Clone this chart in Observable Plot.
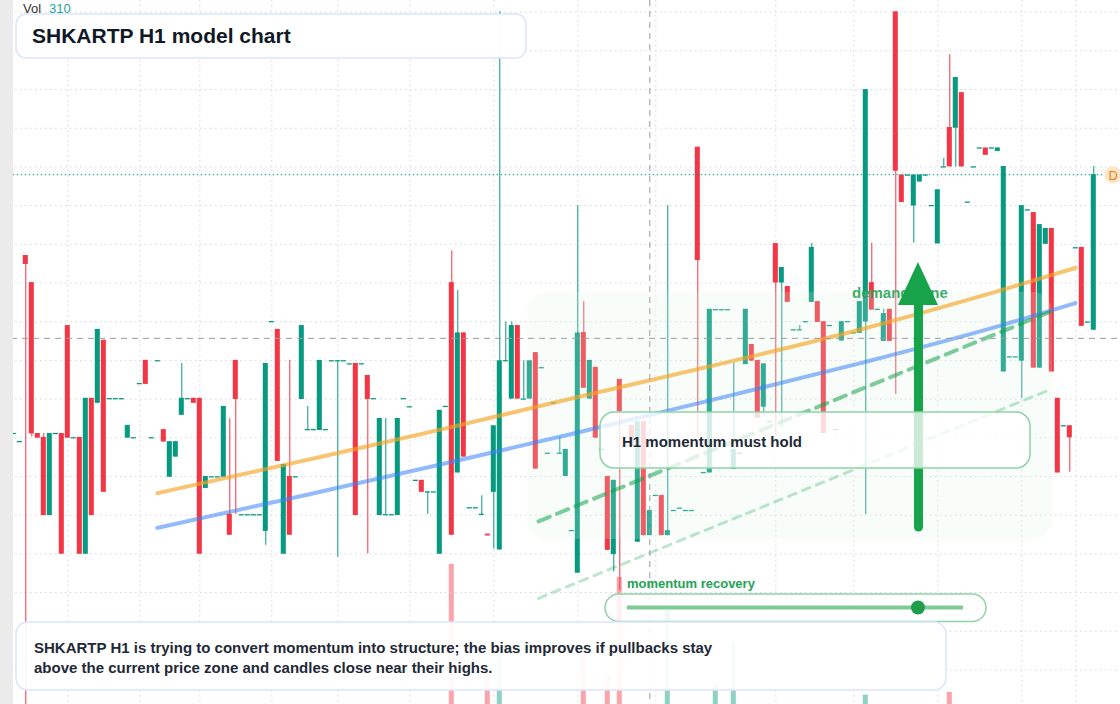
<!DOCTYPE html>
<html><head><meta charset="utf-8">
<script src="https://cdn.jsdelivr.net/npm/d3@7"></script>
<script src="https://cdn.jsdelivr.net/npm/@observablehq/plot@0.6"></script>
<style>
html,body{margin:0;padding:0;background:#fff;}
#chart{position:relative;width:1120px;height:704px;overflow:hidden;background:#fff;font-family:"Liberation Sans",Arial,Helvetica,sans-serif;}
#chart > *{position:absolute;left:0;top:0;}
</style></head><body><div id="chart"></div>
<script>
// ---------- data ----------
const symbol = "SHKARTP";
const timeframe = "H1";
const FIRST_INDEX = -2;            // bar index of the first row below
// [open, high, low, close]
const ohlc = [
[97.11,97.11,97.11,97.11],[96.90,96.90,96.90,96.90],
[101.71,101.71,88.66,101.48],[101.01,101.01,97.02,97.10],[97.11,97.11,96.99,96.99],[97.01,97.11,94.99,94.99],[94.99,97.11,94.99,97.11],
[97.11,97.11,97.11,97.11],[97.11,97.11,93.99,93.99],[99.90,99.90,96.99,96.99],[97.00,97.00,97.00,97.00],[97.01,97.01,93.99,93.99],
[93.99,98.02,93.99,98.02],[98.02,98.02,94.99,94.99],[97.89,99.80,97.89,99.80],[99.52,99.52,95.59,95.59],[98.01,98.01,98.01,98.01],
[98.01,98.01,98.01,98.01],[98.01,98.01,98.01,98.01],[96.99,97.32,96.99,97.32],[97.00,97.00,97.00,97.00],[98.40,98.40,98.40,98.40],
[99.00,99.00,98.38,98.38],[97.00,97.00,97.00,97.00],[98.99,98.99,98.99,98.99],[97.21,97.21,96.89,96.89],[95.98,96.90,95.98,96.90],
[96.50,96.90,96.50,96.90],[97.58,98.92,97.58,98.02],[98.01,98.01,98.01,98.01],[98.02,98.02,97.89,97.89],[98.02,98.02,93.99,93.99],
[95.69,96.00,95.69,96.00],[95.99,95.99,95.99,95.99],[95.99,95.99,95.99,95.99],[95.98,97.81,95.98,97.81],[95.02,97.49,94.48,94.48],
[99.00,99.00,95.02,97.99],[95.01,95.01,95.01,95.01],[95.01,95.01,95.01,95.01],[95.01,95.01,95.01,95.01],[95.01,95.01,95.01,95.01],
[94.58,98.92,94.22,98.92],[100.00,100.00,100.00,100.00],[99.80,99.80,96.39,96.39],[93.99,96.31,93.99,96.31],[96.00,99.00,94.48,94.48],
[95.99,95.99,95.99,95.99],[97.99,99.90,97.99,99.90],[97.21,97.81,97.21,97.21],[97.21,97.21,97.21,97.21],[97.19,99.00,97.19,99.00],
[97.21,97.21,97.21,97.21],[98.99,98.99,98.99,98.99],[98.99,99.00,93.91,98.99],[98.99,98.99,98.99,98.99],[98.91,98.91,98.91,98.91],
[98.92,98.92,94.99,94.99],[98.91,98.91,98.91,98.91],[98.61,98.61,94.00,97.99],[98.01,98.01,98.01,98.01],[94.99,97.50,94.99,97.50],
[95.01,97.50,95.01,95.01],[95.01,95.01,95.01,95.01],[94.99,97.50,94.99,97.50],[98.01,98.01,98.01,98.01],[97.80,97.80,97.80,97.80],
[95.90,95.90,95.90,95.90],[95.90,95.90,95.59,95.59],[95.60,95.60,95.02,95.60],[95.60,95.60,95.60,95.60],[93.99,97.71,93.99,97.71],
[97.81,97.81,97.81,97.81],[101.01,101.83,94.48,94.48],[96.09,100.81,96.09,99.71],[99.71,99.71,96.50,96.50],[95.19,95.19,95.19,95.19],
[95.19,95.19,95.19,95.19],[95.02,95.50,95.02,95.02],[94.51,94.51,94.49,94.49],[95.59,97.31,94.12,97.31],[94.10,108.01,94.10,98.99],
[98.99,99.99,98.99,98.99],[98.00,99.99,98.00,99.90],[99.90,99.90,98.00,98.00],[98.00,98.99,98.00,98.00],[98.00,98.99,98.00,98.99],
[99.20,99.20,96.19,96.19],[98.81,98.81,98.81,98.81],[96.60,96.60,96.60,96.60],[97.90,97.90,97.90,97.90],[96.60,97.02,96.60,96.60],
[96.00,96.70,96.00,96.70],[94.60,94.60,94.60,94.60],[93.50,103.00,93.50,99.71],[99.72,100.52,98.28,98.28],[98.00,99.00,98.00,99.00],
[98.82,98.82,96.99,96.99],[96.70,96.70,96.70,96.70],[96.00,96.00,94.09,94.09],[93.98,95.90,93.53,95.90],[98.51,98.51,93.05,97.68],
[96.80,96.80,96.80,96.80],[97.32,97.32,96.78,96.78],[94.30,97.42,94.30,97.42],[97.42,97.42,94.47,94.47],[94.47,95.12,94.47,95.12],
[95.51,95.51,95.51,95.51],[95.51,95.51,94.47,94.47],[94.47,103.00,94.47,94.60],[95.12,95.12,95.12,95.12],[95.18,95.18,95.18,95.18],
[95.12,95.12,95.12,95.12],[95.12,95.12,95.12,95.12],[104.51,104.51,97.02,101.58],[96.10,96.10,96.10,96.10],[96.09,100.32,96.09,100.32],
[100.31,100.31,100.31,100.31],[100.31,100.31,100.31,100.31],[100.31,100.31,100.31,100.31],[96.18,98.93,96.18,96.70],[96.60,96.60,96.60,96.60],
[98.89,100.32,98.89,100.32],[99.41,99.41,98.98,98.98],[99.00,99.00,97.50,97.50],[97.79,98.91,97.57,98.91],[97.42,97.42,97.42,97.42],
[102.02,102.02,97.02,101.00],[101.00,101.40,97.27,101.40],[100.91,100.91,100.50,100.50],[99.79,99.79,99.79,99.79],[99.79,99.90,99.79,99.79],
[100.00,100.00,100.00,100.00],[100.50,102.02,100.50,101.92],[100.52,100.52,99.98,99.98],[100.00,100.00,97.11,97.11],[99.90,99.90,99.90,99.90],
[97.21,97.21,97.21,97.21],[99.50,100.00,99.50,100.00],[100.00,100.00,100.00,100.00],[99.71,99.71,99.71,99.71],[99.70,100.52,99.70,100.52],
[99.99,106.00,95.02,106.00],[101.01,102.03,100.30,100.30],[100.32,100.32,100.32,100.32],[99.49,100.32,99.49,100.21],[100.32,100.32,99.49,99.49],
[108.01,108.01,98.12,103.89],[103.79,103.79,103.08,103.08],[103.79,103.79,103.79,103.79],[102.99,103.79,102.03,103.79],[103.61,103.79,103.61,103.79],
[103.79,103.79,103.79,103.79],[103.00,103.00,103.00,103.00],[102.01,103.41,102.01,103.41],[104.00,104.22,104.00,104.00],[105.02,106.90,104.00,104.00],
[105.00,106.31,104.00,106.31],[105.92,105.92,104.00,104.00],[103.09,103.09,103.09,103.09],[104.00,104.00,104.00,104.00],[104.49,104.49,104.49,104.49],
[104.49,104.49,104.30,104.30],[104.49,104.49,104.49,104.49],[104.40,104.49,104.40,104.49],[98.70,104.01,98.70,104.01],[99.09,99.09,99.09,99.09],
[99.09,99.09,99.09,99.09],[98.98,103.00,98.01,103.00],[102.89,102.89,102.89,102.89],[102.82,102.82,98.80,98.80],[98.80,102.51,98.80,102.51],
[102.00,102.41,102.00,102.41],[102.41,102.41,98.70,98.70],[98.02,98.02,96.09,96.09],[97.31,97.31,97.31,97.31],[97.31,97.31,96.11,97.00],
[101.91,101.91,101.91,101.91],[101.92,101.92,99.88,99.88],[99.99,99.99,99.99,99.99],[99.78,104.01,99.78,103.80]
];
// [bar index, volume] for the volume bars that show
const volumes = [[71,1090],[77,506],[79,606],[93,583],[97,472],[99,1017],[104,310],[107,828],[115,428],[118,656],[140,363],[154,378]];
const priceTicks = [90,91,92,93,94,95,96,97,98,99,100,101,102,103,104,105,106,107,108];
const timeTicks = [7,19,29,41,52,64,78,92,105,125,138,152,166,175];
const crosshair = {index: 104, price: 99.57};
// channel lines: [bar index, price]
const orangeTrend = [[21.95,95.57],[45.78,96.39],[69.12,97.21],[90.78,98.01],[115.78,98.91],[139.12,99.80],[162.45,100.81],[174.95,101.39]];
const blueTrend   = [[21.90,94.67],[45.78,95.49],[69.12,96.31],[90.78,97.09],[115.78,98.03],[139.12,98.93],[162.45,99.90],[174.95,100.48]];
const supportDash  = [[85.45,94.84],[170.78,100.26]];
const supportFaint = [[85.45,92.85],[170.78,98.25]];
const demandZone = {i1: 83.62, i2: 171.12, low: 94.37, high: 100.76, label: "demand zone", labelIndex: 137.7, labelPrice: 100.73};
const arrowUp = {index: 148.78, base: 94.68, neck: 100.42, tip: 101.53, halfWidth: 3.33};
const momentumRecovery = 0.866;
const titleText = `${symbol} ${timeframe} model chart`;
const boxText = `${timeframe} momentum must hold`;
const captionLines = [
  `${symbol} ${timeframe} is trying to convert momentum into structure; the bias improves if pullbacks stay`,
  "above the current price zone and candles close near their highs."
];

// ---------- chart ----------
const GREEN = "#089981", RED = "#f23645";
const FONT = '"Liberation Sans", Arial, Helvetica, sans-serif';
const W = 1120, H = 704, HALF = 0.42;
const candles = ohlc.map(([o,h,l,c],k) => ({i: FIRST_INDEX + k, o, h, l, c}));
const byIndex = new Map(candles.map(d => [d.i, d]));
const up = d => d.c >= d.o;
const xScale = {type: "linear", domain: [-25.3/6, (W - 25.3)/6], range: [0, W], axis: null};
const yScale = {type: "linear", domain: [90.106, 108.302], range: [H, 0], axis: null};
const vol = volumes.map(([i, v]) => ({i, v, up: up(byIndex.get(i))}));
const lastClose = candles[candles.length - 1].c;

const volumePlot = Plot.plot({
  width: W, height: H, margin: 0,
  x: xScale,
  y: {type: "linear", domain: [0, 4222], range: [760, 0], axis: null},
  style: {background: "transparent"},
  marks: [
    Plot.rect(vol, {x1: d => d.i - HALF, x2: d => d.i + HALF, y1: 0, y2: "v", fill: d => d.up ? GREEN : RED, fillOpacity: 0.45})
  ]
});

const grid = {stroke: "#d4d6dc", strokeDasharray: "1.5,3.5", strokeWidth: 1};
const mainPlot = Plot.plot({
  width: W, height: H, margin: 0,
  x: xScale, y: yScale,
  color: {type: "identity"},
  style: {background: "transparent"},
  marks: [
    Plot.ruleY(priceTicks, grid),
    Plot.ruleX(timeTicks, grid),
    Plot.ruleX(candles, {x: "i", y1: "l", y2: "h", stroke: d => up(d) ? GREEN : RED, strokeWidth: 1}),
    Plot.rect(candles, {x1: d => d.i - HALF, x2: d => d.i + HALF, y1: "o", y2: "c", fill: d => up(d) ? GREEN : RED}),
    Plot.ruleY(candles.filter(d => Math.abs(d.o - d.c) < 0.03), {y: "c", x1: d => d.i - HALF, x2: d => d.i + HALF, stroke: d => up(d) ? GREEN : RED, strokeWidth: 1.3}),
    Plot.rect([demandZone], {x1: "i1", x2: "i2", y1: "low", y2: "high", fill: "#e3f5e8", fillOpacity: 0.2, rx: 20}),
    Plot.line(orangeTrend, {x: d => d[0], y: d => d[1], stroke: "#f5a524", strokeOpacity: 0.65, strokeWidth: 4, curve: "monotone-x"}),
    Plot.line(blueTrend, {x: d => d[0], y: d => d[1], stroke: "#3b82f6", strokeOpacity: 0.55, strokeWidth: 4, curve: "monotone-x"}),
    Plot.line(supportDash, {x: d => d[0], y: d => d[1], stroke: "#16a34a", strokeOpacity: 0.55, strokeWidth: 4, strokeDasharray: "12,8"}),
    Plot.line(supportFaint, {x: d => d[0], y: d => d[1], stroke: "#16a34a", strokeOpacity: 0.28, strokeWidth: 3, strokeDasharray: "8,7"}),
    Plot.ruleY([lastClose], {x1: -2.1, x2: 179.6, stroke: GREEN, strokeDasharray: "1.5,2.5", strokeWidth: 1}),
    Plot.ruleX([crosshair.index], {stroke: "#9a9ca3", strokeDasharray: "6,5", strokeWidth: 1}),
    Plot.ruleY([crosshair.price], {stroke: "#9a9ca3", strokeDasharray: "6,5", strokeWidth: 1}),
    Plot.text([demandZone], {x: "labelIndex", y: "labelPrice", text: "label", textAnchor: "start", fill: "#22a355", fillOpacity: 0.9, fontSize: 15, fontWeight: "bold", fontFamily: FONT}),
    Plot.ruleX([arrowUp], {x: "index", y1: "base", y2: "neck", stroke: "#16a34a", strokeWidth: 9, strokeLinecap: "round"}),
    Plot.areaY([
      {x: arrowUp.index - arrowUp.halfWidth, y: arrowUp.neck},
      {x: arrowUp.index, y: arrowUp.tip},
      {x: arrowUp.index + arrowUp.halfWidth, y: arrowUp.neck}
    ], {x: "x", y1: () => arrowUp.neck, y2: "y", fill: "#16a34a"})
  ]
});

// ---------- overlay panels ----------
const ov = d3.create("svg").attr("width", W).attr("height", H).attr("font-family", FONT);
ov.append("rect").attr("x", 0).attr("y", 0).attr("width", 13).attr("height", H).attr("fill", "#ebebeb");
// legend
const crossVol = volumes.find(d => d[0] === crosshair.index)[1];
ov.append("text").attr("x", 23).attr("y", 13).attr("font-size", 13).attr("fill", "#333").text("Vol");
ov.append("text").attr("x", 49).attr("y", 13).attr("font-size", 13).attr("fill", "#26a69a").text(crossVol);
// title
ov.append("rect").attr("x", 16).attr("y", 14).attr("width", 510).attr("height", 44).attr("rx", 10)
  .attr("fill", "#fff").attr("fill-opacity", 0.93).attr("stroke", "#dbe6fa").attr("stroke-width", 1.5);
ov.append("text").attr("x", 32).attr("y", 43.3).attr("font-size", 21).attr("font-weight", "bold").attr("fill", "#111827").text(titleText);
// H1 box
ov.append("rect").attr("x", 600).attr("y", 412).attr("width", 430).attr("height", 56).attr("rx", 14)
  .attr("fill", "#fff").attr("fill-opacity", 0.78).attr("stroke", "#8fd3a5").attr("stroke-width", 1.5);
ov.append("text").attr("x", 622).attr("y", 446.5).attr("font-size", 15).attr("font-weight", "bold").attr("fill", "#1f2937").text(boxText);
// momentum slider
ov.append("text").attr("x", 627).attr("y", 587.5).attr("font-size", 13).attr("font-weight", "bold").attr("fill", "#22a355").text("momentum recovery");
ov.append("rect").attr("x", 605).attr("y", 594).attr("width", 381).attr("height", 27.5).attr("rx", 13.75)
  .attr("fill", "#fff").attr("fill-opacity", 0.85).attr("stroke", "#8fd3a5").attr("stroke-width", 1.5);
const sx = d3.scaleLinear([0, 1], [627, 963]);
ov.append("line").attr("x1", sx(0)).attr("x2", sx(1)).attr("y1", 607.5).attr("y2", 607.5).attr("stroke", "#7fcb96").attr("stroke-width", 4);
ov.append("circle").attr("cx", sx(momentumRecovery)).attr("cy", 607.5).attr("r", 7).attr("fill", "#1f9d4b");
// caption
ov.append("rect").attr("x", 16).attr("y", 622).attr("width", 930).attr("height", 68).attr("rx", 12)
  .attr("fill", "#fff").attr("fill-opacity", 0.93).attr("stroke", "#dbe6fa").attr("stroke-width", 1.5);
captionLines.forEach((t, k) => ov.append("text").attr("x", 34).attr("y", 652.7 + 20 * k).attr("font-size", 15).attr("font-weight", "bold").attr("fill", "#1f2937").text(t));
// last-price marker
ov.append("circle").attr("cx", 1113).attr("cy", 175).attr("r", 8.5).attr("fill", "#fde6cc");
ov.append("text").attr("x", 1113.3).attr("y", 180).attr("text-anchor", "middle").attr("font-size", 13).attr("fill", "#f57c00").text("D");

const root = document.getElementById("chart");
root.append(volumePlot, mainPlot, ov.node());
</script></body></html>
